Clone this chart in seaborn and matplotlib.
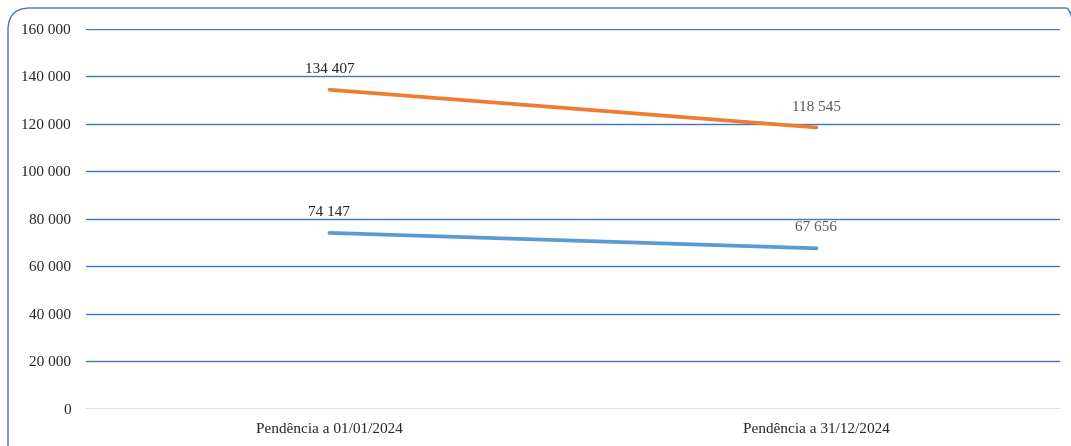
import matplotlib
matplotlib.use("Agg")
import matplotlib.pyplot as plt
from matplotlib.patches import FancyBboxPatch
from matplotlib.transforms import IdentityTransform
import seaborn as sns
import pandas as pd

categories = ["Pendência a 01/01/2024", "Pendência a 31/12/2024"]
series_top = [134407, 118545]
series_bottom = [74147, 67656]
series_names = ["Total", "Parcial"]
y_ticks = [0, 20000, 40000, 60000, 80000, 100000, 120000, 140000, 160000]

sns.set_theme(style="white")
plt.rcParams["font.family"] = ["Liberation Serif", "DejaVu Serif"]

df = pd.DataFrame({
    "categoria": categories * 2,
    "valor": series_top + series_bottom,
    "serie": [series_names[0]] * 2 + [series_names[1]] * 2,
})

fig = plt.figure(figsize=(10.71, 4.46), dpi=100)
ax = fig.add_axes([0.0803, 0.083, 0.9094, 0.852])

palette = {series_names[0]: "#ED7D31", series_names[1]: "#5B9BD5"}
sns.lineplot(data=df, x="categoria", y="valor", hue="serie", palette=palette,
             linewidth=2.7, legend=False, ax=ax, sort=False)

ax.set_xlim(-0.5, 1.5)
ax.set_ylim(0, 160000)
ax.set_yticks(y_ticks)
ax.set_yticklabels([f"{v:,}".replace(",", " ") for v in y_ticks])
ax.set_xlabel("")
ax.set_ylabel("")
ax.tick_params(axis="both", length=0, labelsize=11, colors="#262626")
ax.tick_params(axis="y", pad=11)
ax.tick_params(axis="x", pad=10)

for v in y_ticks[1:]:
    ax.axhline(v, color="#4472C4", linewidth=1.0, zorder=0)
ax.axhline(0, color="#D9D9D9", linewidth=1.2, zorder=0)
for s in ax.spines.values():
    s.set_visible(False)

label_colors = ["#262626", "#595959"]
for vals in (series_top, series_bottom):
    for i, v in enumerate(vals):
        ax.annotate(f"{v:,}".replace(",", " "), (i, v), xytext=(0, 10),
                    textcoords="offset points", ha="center", va="bottom",
                    fontsize=11, color=label_colors[i])

# rounded outer frame, drawn in pixel units
frame = FancyBboxPatch((8, -30), 1080, 446 - 8 + 30,
                       boxstyle="round,pad=0,rounding_size=22",
                       transform=IdentityTransform(), facecolor="none",
                       edgecolor="#4472C4", linewidth=1.0)
fig.patches.append(frame)

fig.savefig("out.png", dpi=100)
